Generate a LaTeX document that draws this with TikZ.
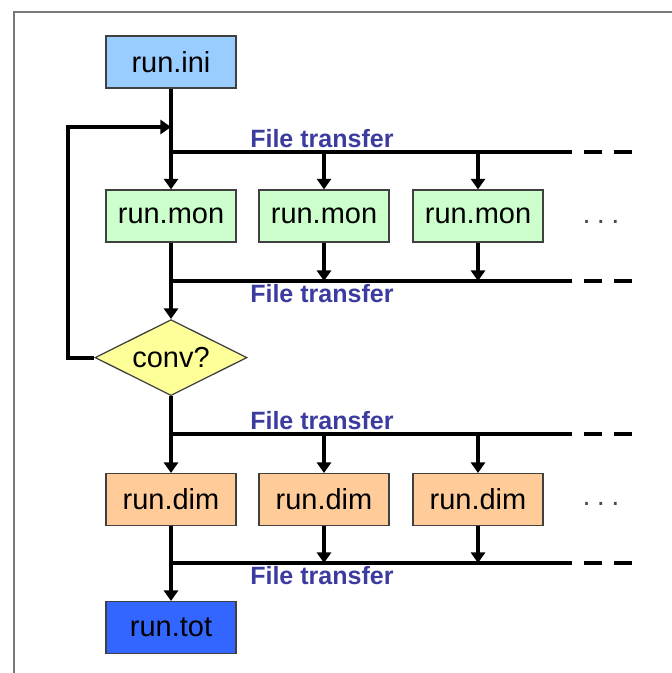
\documentclass[tikz,border=0pt]{standalone}
\usepackage{fontspec}
\setmainfont{Liberation Sans}
\usepackage{tikz}
\usetikzlibrary{arrows.meta, shapes.geometric, positioning}

\definecolor{iniblue}{RGB}{153,204,255}
\definecolor{mongreen}{RGB}{204,255,204}
\definecolor{convyellow}{RGB}{255,255,153}
\definecolor{dimorange}{RGB}{255,204,153}
\definecolor{totblue}{RGB}{51,102,255}
\definecolor{ftblue}{RGB}{60,60,160}
\definecolor{framegray}{RGB}{120,120,120}

\tikzset{
    runbox/.style={draw=black!75, line width=0.9pt, minimum width=3.25cm, minimum height=1.3cm,
        inner sep=0pt, font=\fontsize{20.6}{24}\selectfont},
    decision/.style={diamond, draw=black!75, line width=0.9pt, fill=convyellow, aspect=2,
        minimum width=3.8cm, minimum height=1.9cm, inner sep=0pt, font=\fontsize{20.6}{24}\selectfont},
    flow/.style={line width=2.8pt},
    arr/.style={flow, -{Triangle[length=7.5pt, width=10pt]}},
    busdash/.style={flow, dash pattern=on 0.45cm off 0.3cm},
    ftlabel/.style={text=ftblue, font=\fontsize{17.8}{20}\selectfont\bfseries, inner sep=0pt},
    more/.style={text=black!70, font=\fontsize{20.6}{24}\selectfont}
}
\newcommand{\moredots}{.\hspace{0.16cm}.\hspace{0.16cm}.}

\begin{document}
\begin{tikzpicture}

        \useasboundingbox (0,0) rectangle (16.8,-16.825);

        % Frame
        \draw[framegray, line width=1.4pt] (16.8,-0.3) -- (0.35,-0.3) -- (0.35,-16.825);

        % Start
        \node[runbox, fill=iniblue] (ini) at (4.275,-1.55) {run.ini};

        % First stage
        \foreach \col/\x in {1/4.275, 2/8.1, 3/11.95} {
            \node[runbox, fill=mongreen] (mon\col) at (\x,-5.4) {run.mon};
        }
        \node[more] (mondots) at (15.025,-5.55) {\moredots};
        \node[decision] (conv) at (4.275,-8.94) {conv?};

        % Second stage
        \foreach \col/\x in {1/4.275, 2/8.1, 3/11.95} {
            \node[runbox, fill=dimorange] (dim\col) at (\x,-12.49) {run.dim};
        }
        \node[more] (dimdots) at (15.025,-12.6) {\moredots};
        \node[runbox, fill=totblue] (tot) at (4.275,-15.69) {run.tot};

        % Buses
        \foreach \b/\y in {1/-3.8, 2/-7.025, 3/-10.85, 4/-14.075} {
            \coordinate (bus\b) at (4.275,\y);
            \coordinate (busend\b) at (14.3,\y);
            \coordinate (busdash\b) at (14.6,\y);
            \coordinate (busdashend\b) at (15.8,\y);
            \draw[flow] (bus\b) -- (busend\b);
            \draw[busdash] (busdash\b) -- (busdashend\b);
        }
        \node[ftlabel, anchor=base west] at (6.25,-3.675) {File transfer};
        \node[ftlabel, anchor=base west] at (6.25,-7.55) {File transfer};
        \node[ftlabel, anchor=base west] at (6.25,-10.725) {File transfer};
        \node[ftlabel, anchor=base west] at (6.25,-14.6) {File transfer};

        % Main line
        \draw[arr] (ini) -- (mon1);
        \draw[arr] (mon1) -- (conv);
        \draw[arr] (conv) -- (dim1);
        \draw[arr] (dim1) -- (tot);

        % Side branches
        \foreach \col in {2,3} {
            \draw[arr] (mon\col |- bus1) -- (mon\col);
            \draw[arr] (mon\col) -- (mon\col |- bus2);
            \draw[arr] (dim\col |- bus3) -- (dim\col);
            \draw[arr] (dim\col) -- (dim\col |- bus4);
        }

        % Loop back
        \coordinate (loopin) at (4.275,-3.175);
        \draw[arr] (conv.west) -- (1.7,-8.94) -- (1.7,-3.175) -- (loopin);

\end{tikzpicture}
\end{document}
